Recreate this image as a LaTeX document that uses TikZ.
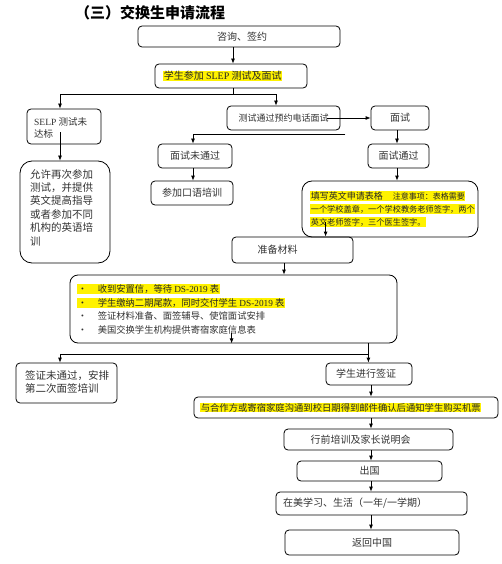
\documentclass[tikz,border=0pt]{standalone}
\usepackage{fontspec}
\newfontfamily\cjk{Noto Sans CJK SC}
\newfontfamily\lat{Liberation Serif}
\usetikzlibrary{arrows.meta}
\newcommand{\fs}[1]{\fontsize{#1}{#1}\selectfont}
\newcommand{\bx}[7][]{%
  \pgfmathsetmacro\bxw{#5-#3}\pgfmathsetmacro\bxh{#6-#4}%
  \pgfmathsetmacro\bxx{(#3+#5)/2}\pgfmathsetmacro\bxy{(#4+#6)/2}%
  \node[box,minimum width=\bxw pt,minimum height=\bxh pt,#1] (#2) at (\bxx,\bxy) {#7};}
\begin{document}
\begin{tikzpicture}[x=1pt,y=-1pt,
  box/.style={draw, line width=0.8pt, rounded corners=4pt, inner sep=0pt, font=\cjk\fs{10}, text=black!80},
  arr/.style={line width=0.8pt, -{Latex[length=5pt,width=4pt]}},
  ln/.style={line width=0.8pt},
  hl/.style={fill=yellow, inner sep=0.6pt, anchor=west, text=black!85},
  txt/.style={inner sep=0pt, text=black!80}]
\useasboundingbox (0,0) rectangle (502,564);
\fill[white] (0,0) rectangle (502,564);

% title
\node[font=\cjk\bfseries\fs{15}, inner sep=0pt] (title) at (150,13) {（三）交换生申请流程};

% top boxes
\bx{n1}{138}{26}{340}{47}{\hspace*{6pt}咨询、签约}
\bx{n2}{155}{64}{307}{88}{}
\node[hl, font=\cjk\fs{10}] (n2t) at (163,76) {学生参加 {\lat SLEP} 测试及面试};

% second level
\bx{selp}{27}{109}{101}{144}{}
\node[txt, anchor=north west, align=left, font=\cjk\fs{9.5}] (selpt) at (34,117) {{\lat SELP} 测试未\\[2.5pt]达标};
\bx[font=\cjk\fs{9}]{test}{227}{106}{340}{130}{测试通过预约电话面试}
\bx{ms}{371}{106}{429}{130}{面试}

\bx[rounded corners=12pt]{allow}{20}{161}{110}{263}{}
\node[txt, anchor=north west, align=left, font=\cjk\fs{10.5}] (allowt) at (30,169)
  {允许再次参加\\[2.9pt]测试，并提供\\[2.9pt]英文提高指导\\[2.9pt]或者参加不同\\[2.9pt]机构的英语培\\[2.9pt]训};

\bx{fail}{158}{144}{232}{168}{面试未通过}
\bx{train}{151}{181}{233}{205}{参加口语培训}
\bx{pass}{368}{144}{429}{168}{面试通过}

\bx[rounded corners=10pt]{fill}{302}{181}{478}{237}{}
\node[hl] (f1) at (310,196) {{\cjk\fs{9}填写英文申请表格}\hspace{10pt}{\cjk\fs{8}注意事项：表格需要}};
\node[hl, font=\cjk\fs{8.2}] (f2) at (310,209) {一个学校盖章，一个学校教务老师签字，两个};
\node[hl, font=\cjk\fs{8.2}] (f3) at (310,222) {英文老师签字，三个医生签字。};

\bx{prep}{232}{237}{353}{263}{准备材料\hspace*{30pt}}

\bx[rounded corners=8pt]{mat}{70}{275}{397}{343}{}
\node[hl, font=\cjk\fs{9.3}] (m1) at (77,289) {\makebox[20pt][l]{•}收到安置信，等待 {\lat DS-2019} 表};
\node[hl, font=\cjk\fs{9.3}] (m2) at (77,303) {\makebox[20pt][l]{•}学生缴纳二期尾款，同时交付学生 {\lat DS-2019} 表};
\node[txt, anchor=west, font=\cjk\fs{9.3}] (m3) at (77.6,316) {\makebox[20pt][l]{•}签证材料准备、面签辅导、使馆面试安排};
\node[txt, anchor=west, font=\cjk\fs{9.3}] (m4) at (77.6,330) {\makebox[20pt][l]{•}美国交换学生机构提供寄宿家庭信息表};

\bx{vfail}{16}{363}{117}{403}{}
\node[txt, anchor=north west, align=left, font=\cjk\fs{10.5}] (vfailt) at (25,370) {签证未通过，安排\\[3pt]第二次面签培训};
\bx{visa}{326}{363}{412}{385}{学生进行签证\hspace*{6pt}}
\bx{wide}{194}{397}{498}{418}{}
\node[hl, font=\cjk\fs{9.33}] (widet) at (200,407.5) {与合作方或寄宿家庭沟通到校日期得到邮件确认后通知学生购买机票};
\bx{pre}{284}{429}{453}{450}{行前培训及家长说明会\hspace*{16pt}}
\bx{go}{297}{461}{442}{481}{出国}
\bx{live}{276}{492}{467}{515}{}
\node[txt, anchor=west, font=\cjk\fs{10}] (livet) at (283,503.5) {在美学习、生活（一年/一学期）};
\bx{ret}{285}{530}{459}{555}{返回中国}

% connectors
\draw[arr] ([xshift=-6]n1.south) coordinate (a1) -- (a1 |- n2.north);
\draw[ln] ([xshift=2]n2.south) -- ++(0,6) coordinate (j1);
\draw[arr] (j1) -| ([xshift=-4]selp.north);
\draw[arr] (j1) -| ([xshift=-7.5]test.north);
\draw[arr] ([shift={(-4,-12)}]selp.south) coordinate (a2) -- (a2 |- allow.north);
\draw[arr] ([xshift=-13]test.east) -- (ms.west);
\draw[arr] ([shift={(5,4)}]test.south east) -| ([xshift=-2]fail.north);
\draw[arr] ([xshift=-2]fail.south) coordinate (a3) -- (a3 |- train.north);
\draw[arr] ([xshift=-3]ms.south) coordinate (a4) -- (a4 |- pass.north);
\draw[arr] ([xshift=-1.5]pass.south) coordinate (a5) -- (a5 |- fill.north);
\draw[arr] ([shift={(24,-15)}]fill.south west) coordinate (a6) -- (a6 |- prep.north);
\draw[arr] ([xshift=-8.5]prep.south) coordinate (a7) -- (a7 |- mat.north);
\draw[arr] ([shift={(162,-10)}]mat.south west) coordinate (a8) -- (a8 |- mat.south);
\draw[ln] ([xshift=-29]mat.south east) -- ++(0,11) coordinate (j2);
\draw[arr] (j2) -| ([xshift=-6.5]vfail.north);
\draw[arr] (j2) -- (j2 |- visa.north);
\draw[arr] ([xshift=2]visa.south) coordinate (a9) -- (a9 |- wide.north);
\draw[arr] (a9 |- wide.south) -- (a9 |- pre.north);
\draw[arr] (a9 |- pre.south) -- (a9 |- go.north);
\draw[arr] (a9 |- go.south) -- (a9 |- live.north);
\draw[arr] (a9 |- live.south) -- (a9 |- ret.north);
\end{tikzpicture}
\end{document}
